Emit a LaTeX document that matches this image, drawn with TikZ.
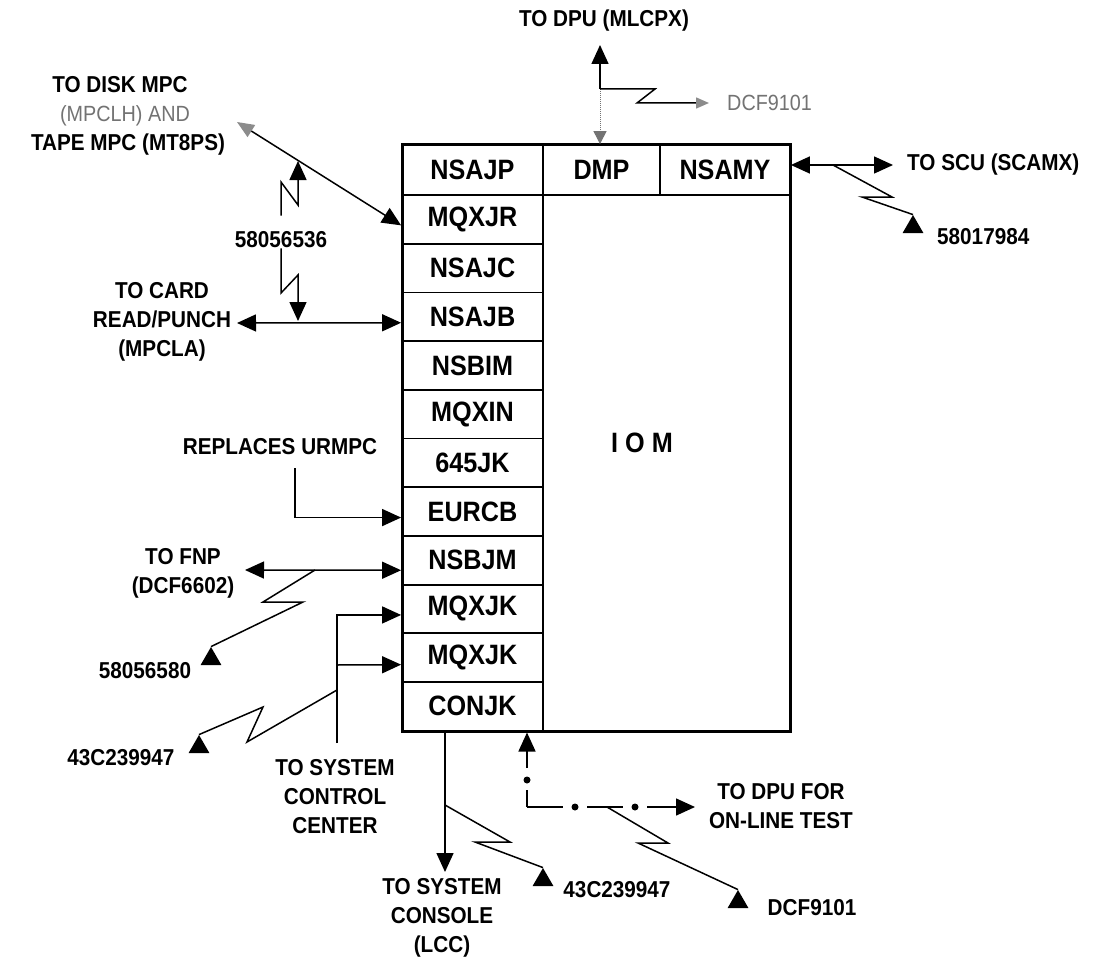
\documentclass[tikz,border=0pt]{standalone}
\usepackage{fontspec}
\setmainfont{Liberation Sans}[FakeStretch=0.9]
\usetikzlibrary{arrows.meta,shapes.geometric}
\begin{document}
\begin{tikzpicture}[x=1pt,y=-1pt,
  cell/.style={draw,line width=1.8pt,minimum height=48.7pt,minimum width=141pt,inner sep=0pt,font=\fontsize{28}{30}\selectfont\bfseries},
  lbl/.style={font=\fontsize{23}{29}\selectfont\bfseries,align=center,inner sep=0pt},
  faint/.style={font=\fontsize{22}{28}\selectfont,text=black!55,inner sep=0pt},
  conn/.style={line width=1.5pt},
  tip/.style={-{Triangle[length=19pt,width=17pt]}},
  dtip/.style={{Triangle[length=19pt,width=17pt]}-{Triangle[length=19pt,width=17pt]}},
  tri/.style={regular polygon,regular polygon sides=3,fill,inner sep=0pt,minimum size=24pt},
  dot/.style={circle,fill,inner sep=0pt,minimum size=7pt}]
\fill[white] (0,0) rectangle (1107,960);
\useasboundingbox (0,0) rectangle (1107,960);

% header cells
\node[cell,minimum height=50pt] (nsajp) at (472.5,170) {NSAJP};
\node[cell,minimum height=50pt,minimum width=117pt] (dmp) at (601.5,170) {DMP};
\node[cell,minimum height=50pt,minimum width=130pt] (nsamy) at (725,170) {NSAMY};
% left column
\node[cell] (mqxjr) at (472.5,219.35) {MQXJR};
\node[cell] (nsajc) at (472.5,268.05) {NSAJC};
\node[cell] (nsajb) at (472.5,316.75) {NSAJB};
\node[cell] (nsbim) at (472.5,365.45) {NSBIM};
\node[cell] (mqxin) at (472.5,414.15) {MQXIN};
\node[cell] (k645) at (472.5,462.85) {645JK};
\node[cell] (eurcb) at (472.5,511.55) {EURCB};
\node[cell] (nsbjm) at (472.5,560.25) {NSBJM};
\node[cell] (mqxjka) at (472.5,608.95) {MQXJK};
\node[cell] (mqxjkb) at (472.5,657.65) {MQXJK};
\node[cell] (conjk) at (472.5,706.35) {CONJK};
% outer box
\node[draw,line width=3pt,minimum width=388pt,minimum height=586pt,inner sep=0pt] (iom) at (596,438) {};
\node[font=\fontsize{28}{30}\selectfont\bfseries,inner sep=0pt] (ioml) at (642,443) {I O M};

% top: DPU
\coordinate (tj) at (600,89);
\coordinate (tdpu) at (600,45);
\coordinate (tdcf) at (709,103);
\node[lbl] (dpu) at (604,21) {TO DPU (MLCPX)};
\draw[conn,tip] (tj) -- (tdpu);
\draw[line width=1pt,black!55,densely dotted,-{Triangle[length=13pt,width=13pt]}] (tj) -- (tj |- dmp.north);
\draw[conn,-{Triangle[length=13pt,width=11pt,color=black!45]}] (tj) -- (655,89) -- (637,103) -- (tdcf);
\node[faint,anchor=west] (dcftop) at (727,103) {DCF9101};

% right: SCU
\coordinate (tscu) at (893,165);
\node[lbl,anchor=west] (scu) at (907,165) {TO SCU (SCAMX)};
\draw[conn,dtip] ([yshift=5pt]nsamy.east) -- (tscu);
\node[tri] (t1) at (913,227) {};
\draw[conn] (833,165) -- (892,197) -- (862,197) -- (t1.corner 1);
\node[lbl,anchor=west] (n1) at (937,237) {58017984};

% disk / tape
\coordinate (tdisk) at (237,122);
\draw[conn,{Triangle[length=17pt,width=14pt,color=black!45]}-{Triangle[length=19pt,width=17pt]}] (tdisk) -- ([yshift=-6pt]mqxjr.west);
\node[lbl] (disk1) at (120,85) {TO DISK MPC};
\node[faint] (disk2) at (125,116) {(MPCLH) AND};
\node[lbl] (disk3) at (128,145) {TAPE MPC (MT8PS)};

% card
\coordinate (tcard) at (237,323);
\draw[conn,dtip] (tcard) -- ([yshift=-6pt]nsajb.west);
\node[lbl] (card) at (162,322) {TO CARD\\READ/PUNCH\\(MPCLA)};
\node[lbl] (n2) at (281,240) {58056536};
\draw[conn,tip,shorten <=16pt] (n2.north) -- (n2.north |- 0,182) -- (298,205) -- (298,161);
\draw[conn,tip] (n2.south) -- (n2.south |- 0,293) -- (298,275) -- (298,321);

% replaces
\node[lbl] (repl) at (280,447) {REPLACES URMPC};
\coordinate (rj) at (295,468);
\draw[conn,tip] (rj) |- ([yshift=-6pt]eurcb.west);

% FNP
\coordinate (tfnp) at (245,570);
\draw[conn,dtip] (tfnp) -- ([yshift=-10pt]nsbjm.west);
\node[lbl] (fnp) at (183,573) {TO FNP\\(DCF6602)};
\node[tri] (t2) at (211,659) {};
\draw[conn] (315,570) -- (263,602) -- (303,602) -- (t2.corner 1);
\node[lbl] (n3) at (145,671) {58056580};

% system control center
\coordinate (sj2) at (337,665);
\coordinate (sjb) at (337,743);
\draw[conn,tip] (sjb) |- ([yshift=-6pt]mqxjka.west);
\draw[conn,tip] (sj2) -- ([yshift=-7pt]mqxjkb.west);
\node[tri] (t3) at (199,747) {};
\draw[conn] (337,690) -- (247,742) -- (263,707) -- (t3.corner 1);
\node[lbl] (n4) at (121,758) {43C239947};
\node[lbl] (scc) at (335,797) {TO SYSTEM\\CONTROL\\CENTER};

% console
\coordinate (cj) at (445,805);
\coordinate (tcon) at (445,872);
\draw[conn,tip] (cj |- conjk.south) -- (tcon);
\node[tri] (t4) at (543,880) {};
\draw[conn] (cj) -- (510,842) -- (475,842) -- (t4.corner 1);
\node[lbl] (n5) at (617,890) {43C239947};
\node[lbl] (con) at (442,918) {TO SYSTEM\\CONSOLE\\(LCC)};

% on-line test
\coordinate (oj) at (527,807);
\coordinate (tol) at (695,807);
\draw[conn,tip,dash pattern=on 17pt off 22pt on 80pt] (oj) -- (oj |- iom.south);
\draw[conn,tip,dash pattern=on 36pt off 24pt] (oj) -- (tol);
\node[dot] (d1) at (527,780) {};
\node[dot] (d2) at (575,807) {};
\node[dot] (d3) at (635,807) {};
\node[tri] (t5) at (738,902) {};
\draw[conn] (607,807) -- (668,843) -- (638,843) -- (t5.corner 1);
\node[lbl] (n6) at (812,908) {DCF9101};
\node[lbl] (olt) at (781,806) {TO DPU FOR\\ON-LINE TEST};
\end{tikzpicture}
\end{document}
